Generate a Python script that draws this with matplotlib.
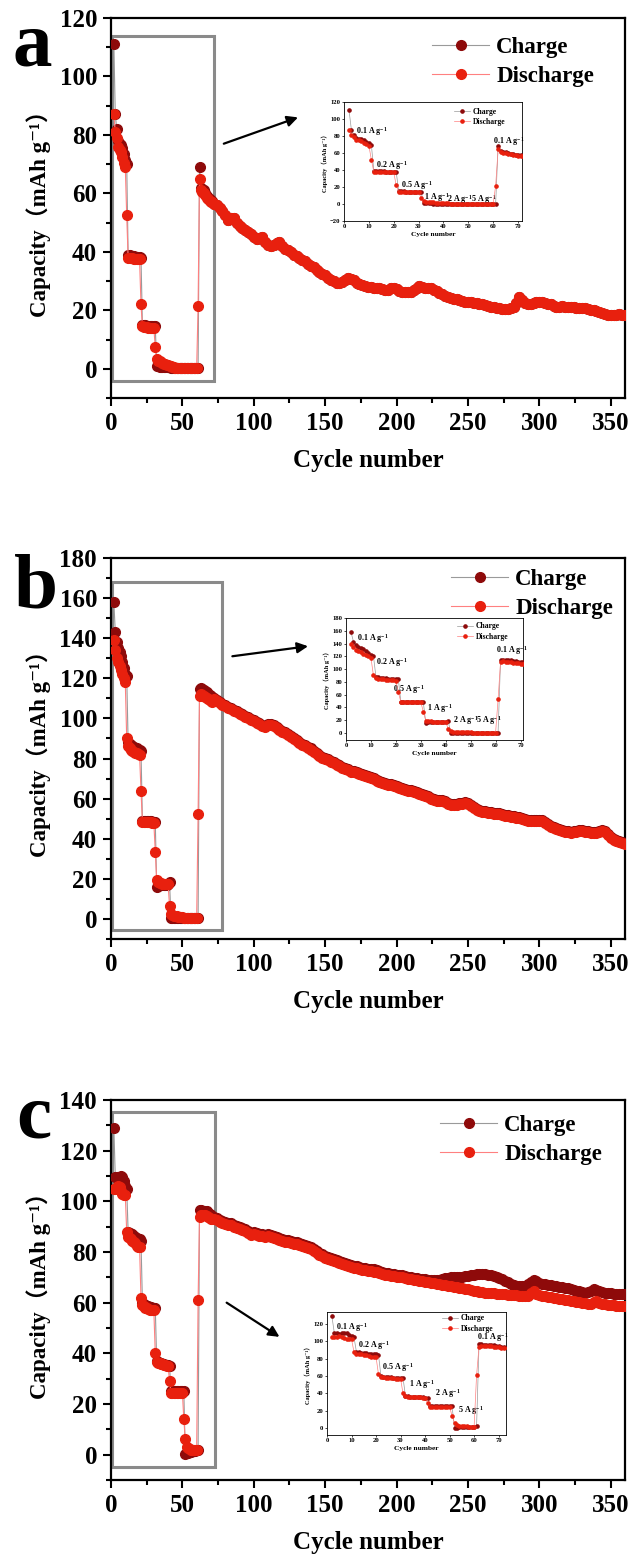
import matplotlib
matplotlib.use('Agg')
import matplotlib.pyplot as plt
from matplotlib.patches import Rectangle
from matplotlib.ticker import MultipleLocator

SERIF = ['Liberation Serif', 'DejaVu Serif', 'Noto Sans CJK SC']
plt.rcParams['font.family'] = SERIF
plt.rcParams['font.weight'] = 'bold'
plt.rcParams['axes.labelweight'] = 'bold'
plt.rcParams['mathtext.fontset'] = 'custom'
plt.rcParams['mathtext.rm'] = 'Liberation Serif:bold'
plt.rcParams['mathtext.bf'] = 'Liberation Serif:bold'
plt.rcParams['mathtext.it'] = 'Liberation Serif:bold'

# ---------------- data ----------------
rate_cycles = list(range(2, 72))
long_cycles = list(range(72, 361, 2))

a_charge_rate = [111, 87, 82, 78, 77, 76.5, 75.5, 73.5, 71.5, 70,
                 39, 38.8, 38.6, 38.5, 38.5, 38.4, 38.4, 38.3, 38.2, 38,
                 15, 15, 14.9, 14.8, 14.8, 14.7, 14.7, 14.6, 14.6, 14.5,
                 0.8, 0.8, 0.7, 0.7, 0.6, 0.6, 0.6, 0.5, 0.5, 0.5,
                 0.3, 0.3, 0.3, 0.3, 0.3, 0.3, 0.3, 0.3, 0.3, 0.3,
                 0.3, 0.3, 0.3, 0.3, 0.3, 0.3, 0.3, 0.3, 0.3, 0.3,
                 69, 62, 61.5, 61, 60, 59, 58.5, 58, 57.5, 57.5]
a_discharge_rate = [87, 81, 79, 76, 75, 74, 72.5, 70.5, 69, 52.5,
                    38, 38, 37.8, 37.8, 37.7, 37.7, 37.6, 37.5, 37.5, 22,
                    14.5, 14.3, 14.2, 14.2, 14.1, 14.1, 14, 14, 13.9, 7.5,
                    3.2, 2.8, 2.5, 2.2, 2.0, 1.8, 1.6, 1.4, 1.2, 1.0,
                    0.8, 0.6, 0.5, 0.4, 0.3, 0.3, 0.3, 0.3, 0.3, 0.3,
                    0.3, 0.3, 0.3, 0.3, 0.3, 0.3, 0.3, 0.3, 0.3, 21.5,
                    65, 61, 60.5, 60, 59.5, 58.5, 58, 57.5, 57, 57]
a_discharge_long = [56.5, 56.0, 55.0, 54.0, 52.5, 51.0, 51.5, 51.5, 50.0, 49.0,
                    48.3, 47.5, 46.8, 46.0, 45.2, 44.5, 44.8, 45.0, 43.5, 42.5,
                    42.0, 42.5, 43.0, 43.5, 42.0, 41.0, 40.5, 39.8, 39.0, 38.5,
                    38.0, 37.2, 36.8, 36.0, 35.3, 34.8, 33.8, 33.0, 32.5, 32.0,
                    31.2, 30.5, 30.0, 29.5, 29.5, 29.8, 30.2, 31.0, 30.8, 30.2,
                    29.5, 29.0, 28.6, 28.2, 28.0, 28.0, 27.8, 27.5, 27.5, 27.2,
                    27.0, 27.0, 27.5, 27.8, 27.2, 26.5, 26.3, 26.2, 26.4, 26.3,
                    26.8, 27.5, 28.2, 28.0, 27.5, 27.8, 27.5, 27.0, 26.5, 26.0,
                    25.5, 25.0, 24.6, 24.3, 24.0, 23.8, 23.5, 23.2, 23.0, 23.0,
                    22.8, 22.6, 22.5, 22.3, 22.0, 21.8, 21.5, 21.3, 21.0, 20.8,
                    20.8, 20.6, 20.5, 20.6, 20.8, 21.2, 22.5, 24.5, 23.5, 22.5,
                    22.3, 22.2, 22.5, 22.8, 23.0, 22.8, 22.5, 22.3, 22.0, 21.5,
                    21.2, 21.0, 21.5, 21.3, 21.0, 21.0, 21.2, 20.8, 20.8, 20.7,
                    20.8, 20.6, 20.2, 20.0, 19.8, 19.5, 19.2, 18.8, 18.5, 18.5,
                    18.3, 18.5, 18.6, 18.4, 18.5]
a_charge_long = [56.5, 56.0, 55.0, 54.0, 52.5, 51.0, 51.5, 51.5, 50.0, 49.0,
                 48.3, 47.5, 46.8, 46.0, 45.2, 44.5, 44.8, 45.0, 43.5, 42.5,
                 42.0, 42.5, 43.0, 43.5, 42.0, 41.0, 40.5, 39.8, 39.0, 38.5,
                 38.0, 37.2, 36.8, 36.0, 35.3, 34.8, 33.8, 33.0, 32.5, 32.0,
                 31.2, 30.5, 30.0, 29.5, 29.5, 29.8, 30.2, 31.0, 30.8, 30.2,
                 29.5, 29.0, 28.6, 28.2, 28.0, 28.0, 27.8, 27.5, 27.5, 27.2,
                 27.0, 27.0, 27.5, 27.8, 27.2, 26.5, 26.3, 26.2, 26.4, 26.3,
                 26.8, 27.5, 28.2, 28.0, 27.5, 27.8, 27.5, 27.0, 26.5, 26.0,
                 25.5, 25.0, 24.6, 24.3, 24.0, 23.8, 23.5, 23.2, 23.0, 23.0,
                 22.8, 22.6, 22.5, 22.3, 22.0, 21.8, 21.5, 21.3, 21.0, 20.8,
                 20.8, 20.6, 20.5, 20.6, 20.8, 21.2, 22.5, 24.5, 23.5, 22.5,
                 22.3, 22.2, 22.5, 22.8, 23.0, 22.8, 22.5, 22.3, 22.0, 21.5,
                 21.2, 21.0, 21.5, 21.3, 21.0, 21.0, 21.2, 20.8, 20.8, 20.7,
                 20.8, 20.6, 20.2, 20.0, 19.8, 19.5, 19.2, 18.8, 18.5, 18.5,
                 18.3, 18.5, 18.6, 18.4, 18.5]

b_charge_rate = [158, 143, 138, 135, 133, 131, 128, 125, 122, 121,
                 88, 87, 86.5, 86, 85.5, 85, 85, 84.5, 84.5, 84,
                 49, 49, 48.8, 48.8, 48.7, 48.6, 48.6, 48.5, 48.5, 48.5,
                 16, 16.5, 17, 17, 17, 17, 17, 17, 17.5, 18.5,
                 0.3, 0.3, 0.3, 0.3, 0.3, 0.3, 0.3, 0.3, 0.3, 0.3,
                 0.3, 0.3, 0.3, 0.3, 0.3, 0.3, 0.3, 0.3, 0.3, 0.3,
                 114.5, 115, 114.5, 114, 113.5, 113, 112, 111.5, 111, 110.5]
b_discharge_rate = [139, 134, 130, 128, 126, 124, 122, 120, 118, 90,
                    86, 85, 84.5, 84, 83.5, 83, 83, 82.5, 82, 64,
                    48.5, 48.5, 48.3, 48.3, 48.2, 48.2, 48.1, 48, 48, 33.5,
                    19.5, 18.5, 18, 17.8, 17.6, 17.5, 17.4, 17.3, 17.2, 6.5,
                    2.5, 2.0, 1.7, 1.5, 1.3, 1.1, 1.0, 0.9, 0.8, 0.7,
                    0.6, 0.5, 0.5, 0.4, 0.4, 0.4, 0.3, 0.3, 0.3, 52.5,
                    111, 112, 111.5, 111, 110.5, 110, 109.5, 109, 108.5, 108]
b_discharge_long = [109.5, 108.5, 107.5, 106.8, 106.0, 105.2, 104.5, 103.8, 103.0, 102.2,
                    101.5, 100.8, 100.0, 99.3, 98.5, 97.8, 97.0, 96.2, 95.5, 96.5,
                    96.8, 96.0, 95.0, 94.0, 93.2, 92.5, 91.5, 90.5, 89.5, 88.5,
                    87.6, 86.8, 86.0, 85.0, 84.5, 83.5, 82.3, 81.3, 80.5, 79.8,
                    79.2, 78.5, 77.8, 77.0, 76.2, 75.5, 74.8, 74.2, 73.5, 73.3,
                    73.0, 72.3, 71.8, 71.2, 70.8, 70.2, 69.7, 69.0, 68.5, 68.0,
                    67.5, 67.0, 66.6, 66.3, 65.8, 65.2, 64.8, 64.3, 64.0, 63.8,
                    63.5, 63.0, 62.5, 62.0, 61.5, 60.8, 60.0, 59.5, 59.0, 58.8,
                    58.7, 58.2, 57.5, 57.0, 56.8, 57.0, 57.2, 57.5, 58.0, 57.5,
                    56.5, 55.5, 54.5, 53.8, 53.5, 53.2, 53.0, 52.7, 52.5, 52.3,
                    52.2, 51.8, 51.5, 51.2, 51.0, 50.7, 50.5, 50.2, 49.8, 49.5,
                    49.0, 48.8, 48.8, 48.8, 49.0, 48.8, 48.0, 47.0, 46.0, 45.2,
                    44.8, 44.3, 43.8, 43.5, 43.2, 43.0, 43.2, 43.5, 43.8, 43.8,
                    43.5, 43.2, 43.0, 43.0, 43.0, 43.5, 43.8, 43.5, 42.0, 40.5,
                    39.5, 38.8, 38.2, 37.8, 37.3]
b_charge_long = [110.0, 109.0, 108.0, 107.3, 106.5, 105.7, 105.0, 104.3, 103.5, 102.7,
                 102.0, 101.3, 100.5, 99.8, 99.0, 98.3, 97.5, 96.7, 96.0, 97.0,
                 97.3, 96.5, 95.5, 94.5, 93.7, 93.0, 92.0, 91.0, 90.0, 89.0,
                 88.1, 87.3, 86.5, 85.5, 85.0, 84.0, 82.8, 81.8, 81.0, 80.3,
                 79.7, 79.0, 78.3, 77.5, 76.7, 76.0, 75.3, 74.7, 74.0, 73.8,
                 73.5, 72.8, 72.3, 71.7, 71.3, 70.7, 70.2, 69.5, 69.0, 68.5,
                 68.0, 67.5, 67.1, 66.8, 66.3, 65.7, 65.3, 64.8, 64.5, 64.3,
                 64.0, 63.5, 63.0, 62.5, 62.0, 61.3, 60.5, 60.0, 59.5, 59.3,
                 59.2, 58.7, 58.0, 57.5, 57.3, 57.5, 57.7, 58.0, 58.5, 58.0,
                 57.0, 56.0, 55.0, 54.3, 54.0, 53.7, 53.5, 53.2, 53.0, 52.8,
                 52.7, 52.3, 52.0, 51.7, 51.5, 51.2, 51.0, 50.7, 50.3, 50.0,
                 49.5, 49.3, 49.3, 49.3, 49.5, 49.3, 48.5, 47.5, 46.5, 45.7,
                 45.3, 44.8, 44.3, 44.0, 43.7, 43.5, 43.7, 44.0, 44.3, 44.3,
                 44.0, 43.7, 43.5, 43.5, 43.5, 44.0, 44.3, 44.0, 42.5, 41.0,
                 40.0, 39.3, 38.7, 38.3, 37.8]

c_charge_rate = [129, 109.5, 109.5, 109, 109.5, 110, 109.5, 108, 106, 105,
                 88, 87.5, 87, 87, 86.5, 86, 85.5, 85, 85, 84.5,
                 60, 59.5, 59, 58.8, 58.5, 58.3, 58.2, 58, 58, 58,
                 37, 36.5, 36.2, 36, 35.8, 35.6, 35.5, 35.3, 35.2, 35,
                 25, 25, 25, 25, 25, 25, 25, 25, 25, 25,
                 0.3, 0.5, 0.7, 0.9, 1.1, 1.3, 1.5, 1.6, 1.8, 2,
                 96.5, 96.5, 96.3, 96.2, 96, 96, 95.5, 95, 94.5, 94]
c_discharge_rate = [105, 105, 105.5, 106, 105.5, 104, 103, 102.5, 102.5, 88,
                    86, 85.5, 85, 84.5, 84, 83.5, 82.5, 82, 82, 62,
                    59, 58.5, 58, 57.8, 57.5, 57.3, 57.2, 57, 57, 40,
                    36.5, 36.2, 36, 35.8, 35.6, 35.4, 35.3, 35.1, 35, 29,
                    24.5, 24.5, 24.5, 24.5, 24.5, 24.5, 24.5, 24.5, 24.5, 14,
                    6, 3, 2.5, 2.2, 2, 2, 1.8, 1.8, 1.8, 61,
                    94, 94.5, 94.5, 94.5, 94.5, 94.3, 94, 93.5, 93.2, 93]
c_discharge_long = [93.0, 92.5, 92.0, 91.5, 91.2, 90.8, 90.5, 90.0, 89.5, 89.0,
                    88.6, 88.2, 87.5, 86.8, 87.0, 86.8, 86.5, 86.2, 86.0, 86.3,
                    86.0, 85.5, 85.0, 84.8, 84.3, 84.0, 83.8, 83.5, 83.2, 83.0,
                    82.6, 82.3, 82.0, 81.5, 81.0, 80.3, 79.5, 78.8, 78.3, 77.8,
                    77.3, 76.8, 76.4, 76.0, 75.6, 75.2, 74.9, 74.6, 74.2, 73.8,
                    73.5, 73.2, 73.0, 72.8, 72.6, 72.5, 72.3, 72.0, 71.6, 71.3,
                    71.0, 70.8, 70.6, 70.4, 70.3, 70.1, 70.0, 69.8, 69.5, 69.2,
                    69.0, 68.8, 68.6, 68.4, 68.2, 68.0, 67.8, 67.6, 67.4, 67.2,
                    67.0, 66.8, 66.6, 66.4, 66.2, 66.0, 65.8, 65.6, 65.4, 65.2,
                    65.0, 64.8, 64.6, 64.4, 64.2, 64.0, 63.9, 63.8, 63.7, 63.6,
                    63.5, 63.4, 63.3, 63.2, 63.1, 63.0, 62.9, 62.8, 62.6, 62.5,
                    62.8, 64.0, 64.5, 63.5, 63.0, 62.8, 62.6, 62.4, 62.2, 62.0,
                    61.8, 61.6, 61.4, 61.2, 61.0, 60.8, 60.6, 60.4, 60.2, 60.0,
                    59.8, 59.6, 59.5, 60.2, 60.5, 60.0, 59.6, 59.4, 59.2, 59.0,
                    58.9, 58.8, 58.7, 58.6, 58.5]
c_charge_long = [94.0, 93.4, 92.8, 92.3, 92.0, 91.6, 91.3, 90.8, 90.3, 89.8,
                 89.4, 89.0, 88.3, 87.6, 87.8, 87.6, 87.3, 87.0, 86.8, 87.1,
                 86.8, 86.3, 85.8, 85.6, 85.1, 84.8, 84.6, 84.3, 84.0, 83.8,
                 83.4, 83.1, 82.8, 82.3, 81.8, 81.1, 80.3, 79.6, 79.1, 78.6,
                 78.1, 77.6, 77.2, 76.8, 76.4, 76.0, 75.7, 75.4, 75.0, 74.6,
                 74.3, 74.0, 73.8, 73.6, 73.4, 73.3, 73.1, 72.8, 72.4, 72.1,
                 71.8, 71.6, 71.4, 71.2, 71.1, 70.9, 70.8, 70.6, 70.3, 70.0,
                 69.8, 69.6, 69.4, 69.3, 69.2, 69.0, 68.9, 68.8, 68.8, 68.9,
                 69.2, 69.6, 69.9, 70.1, 70.2, 70.3, 70.3, 70.2, 70.4, 70.6,
                 70.8, 71.0, 71.2, 71.4, 71.5, 71.3, 71.0, 70.8, 70.6, 70.3,
                 69.8, 69.2, 68.6, 68.0, 67.5, 67.0, 66.7, 66.6, 66.6, 66.7,
                 67.3, 68.3, 68.8, 68.4, 67.8, 67.4, 67.2, 67.0, 66.8, 66.6,
                 66.4, 66.2, 66.0, 65.9, 65.7, 65.4, 65.1, 64.8, 64.5, 64.2,
                 64.0, 64.2, 64.7, 65.2, 65.0, 64.5, 64.2, 64.0, 63.8, 63.7,
                 63.6, 63.5, 63.4, 63.4, 63.3]

rate_labels = ['0.1 A g$^{-1}$', '0.2 A g$^{-1}$', '0.5 A g$^{-1}$', '1 A g$^{-1}$',
               '2 A g$^{-1}$', '5 A g$^{-1}$', '0.1 A g$^{-1}$']
a_label_pos = [(4.9, 83), (12.7, 43), (23, 19.5), (32.3, 5), (41.6, 3), (51.2, 3), (59.9, 71)]
b_label_pos = [(4.4, 144), (12.2, 106), (18.9, 64.7), (32.5, 34.7), (43, 15.5), (52.2, 15.5), (60, 125)]
c_label_pos = [(3.8, 113.5), (12.6, 92), (22.6, 66.5), (33.3, 47.3), (43.9, 37.3), (53.4, 17.3), (61.3, 102)]

panel_letters = ['a', 'b', 'c']
main_ymax = [120, 180, 140]
inset_ylim = [(-20, 120.4), (-11, 180), (-8, 134)]
inset_xmax = [71.6, 71, 73]
inset_ymajor = [20, 20, 20]

# ---------------- layout (figure pixels) ----------------
W, H = 633, 1558
def rect(l, t, r, b):
    return [l / W, 1 - b / H, (r - l) / W, (b - t) / H]

main_boxes = [(111, 18, 625, 398), (111, 558, 625, 939), (111, 1100, 625, 1480)]
inset_boxes = [(344, 102, 522, 221), (346, 618, 523, 740), (327, 1312, 506, 1435)]
letter_pos = [(12, 66), (14, 607), (16, 1138)]
legend_pos = [(432, 37), (451, 569), (440, 1115)]
inset_legend_pos = [(454, 107.5), (457, 622.5), (442, 1314.5)]
zoom_rects = [(0.6, -4.2, 72, 114), (0.6, -5.5, 78, 168), (0.6, -5.0, 72.7, 135.4)]
arrows = [((79, 77), (131, 86)), ((85, 131), (138, 136)), ((81, 60), (118, 46.5))]

CH = '#8E0A0A'
DC = '#E8200E'
CH_LINE = '#9a9a9a'
DC_LINE = '#ff8080'
YLABEL = 'Capacity（mAh g⁻¹）'

fig = plt.figure(figsize=(6.33, 15.58), dpi=100)

panels = [
    (a_charge_rate + a_charge_long, a_discharge_rate + a_discharge_long, a_label_pos),
    (b_charge_rate + b_charge_long, b_discharge_rate + b_discharge_long, b_label_pos),
    (c_charge_rate + c_charge_long, c_discharge_rate + c_discharge_long, c_label_pos),
]
cycles = rate_cycles + long_cycles

for i, (ch, dc, lab_pos) in enumerate(panels):
    ax = fig.add_axes(rect(*main_boxes[i]))
    l1, = ax.plot(cycles, ch, '-o', color=CH_LINE, lw=0.8, ms=7, mfc=CH, mec=CH,
                  label='Charge', zorder=3)
    l2, = ax.plot(cycles, dc, '-o', color=DC_LINE, lw=0.8, ms=7, mfc=DC, mec=DC,
                  label='Discharge', zorder=4)
    ax.set_xlim(0, 360)
    ax.set_ylim(-10, main_ymax[i])
    ax.xaxis.set_major_locator(MultipleLocator(50))
    ax.xaxis.set_minor_locator(MultipleLocator(25))
    ax.yaxis.set_major_locator(MultipleLocator(20))
    ax.yaxis.set_minor_locator(MultipleLocator(10))
    ax.tick_params(which='both', direction='out', top=False, right=False, width=1.5,
                   labelsize=18, pad=4)
    ax.tick_params(which='major', length=6)
    ax.tick_params(which='minor', length=3.5)
    for s in ax.spines.values():
        s.set_linewidth(1.6)
    ax.set_xlabel('Cycle number', fontsize=18, fontweight='bold', labelpad=10)
    ax.set_ylabel(YLABEL, fontsize=16.5, fontweight='bold', labelpad=6)
    x0, y0, w0, h0 = zoom_rects[i]
    ax.add_patch(Rectangle((x0, y0), w0 - x0, h0 - y0, fill=False, ec='#8a8a8a',
                           lw=2.2, zorder=2))
    tail, head = arrows[i]
    ax.annotate('', xy=head, xytext=tail,
                arrowprops=dict(arrowstyle='-|>', color='black', lw=1.6,
                                mutation_scale=16, shrinkA=0, shrinkB=0))
    lx, ly = legend_pos[i]
    ax.legend(handles=[l1, l2], loc='upper left', bbox_to_anchor=(lx / W, 1 - ly / H),
              bbox_transform=fig.transFigure, frameon=False,
              prop={'size': 16.5, 'weight': 'bold'}, handlelength=2.5,
              handletextpad=0.3, labelspacing=0.36, borderpad=0, borderaxespad=0)
    px, py = letter_pos[i]
    fig.text(px / W, 1 - py / H, panel_letters[i], fontsize=57, fontweight='bold',
             ha='left', va='baseline')

    # inset
    axi = fig.add_axes(rect(*inset_boxes[i]))
    m1, = axi.plot(cycles, ch, '-o', color=CH_LINE, lw=0.5, ms=2.3, mfc=CH, mec=CH,
                   label='Charge', zorder=3)
    m2, = axi.plot(cycles, dc, '-o', color=DC_LINE, lw=0.5, ms=2.3, mfc=DC, mec=DC,
                   label='Discharge', zorder=4)
    axi.set_xlim(0, inset_xmax[i])
    axi.set_ylim(*inset_ylim[i])
    axi.xaxis.set_major_locator(MultipleLocator(10))
    axi.yaxis.set_major_locator(MultipleLocator(inset_ymajor[i]))
    axi.tick_params(which='both', direction='out', top=False, right=False, width=0.5,
                    length=1.5, labelsize=4.8, pad=1)
    for s in axi.spines.values():
        s.set_linewidth(0.6)
    axi.set_xlabel('Cycle number', fontsize=5.3, fontweight='bold', labelpad=2)
    axi.set_ylabel(YLABEL, fontsize=4.6, fontweight='bold', labelpad=1.5)
    for txt, (tx, ty) in zip(rate_labels, lab_pos):
        axi.text(tx, ty, txt, fontsize=5.8, fontweight='bold', ha='left', va='baseline')
    ix, iy = inset_legend_pos[i]
    axi.legend(handles=[m1, m2], loc='upper left', bbox_to_anchor=(ix / W, 1 - iy / H),
               bbox_transform=fig.transFigure, frameon=False,
               prop={'size': 5.5, 'weight': 'bold'}, handlelength=2.1,
               handletextpad=0.4, labelspacing=0.3, borderpad=0, borderaxespad=0)

fig.savefig('out.png', dpi=100, facecolor='white')
